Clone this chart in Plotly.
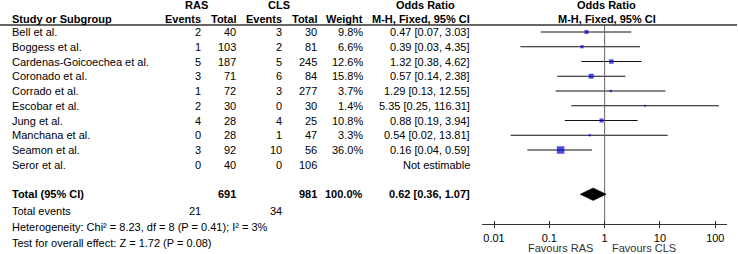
import math
import plotly.graph_objects as go

# ---------------- data ----------------
studies = ["Bell et al.", "Boggess et al.", "Cardenas-Goicoechea et al.", "Coronado et al.",
           "Corrado et al.", "Escobar et al.", "Jung et al.", "Manchana et al.",
           "Seamon et al.", "Seror et al."]
ras_events = [2, 1, 5, 3, 1, 2, 4, 0, 3, 0]
ras_total = [40, 103, 187, 71, 72, 30, 28, 28, 92, 40]
cls_events = [3, 2, 5, 6, 3, 0, 4, 1, 10, 0]
cls_total = [30, 81, 245, 84, 277, 30, 25, 47, 56, 106]
weights = [9.8, 6.6, 12.6, 15.8, 3.7, 1.4, 10.8, 3.3, 36.0, None]
odds = [0.47, 0.39, 1.32, 0.57, 1.29, 5.35, 0.88, 0.54, 0.16, None]
ci_low = [0.07, 0.03, 0.38, 0.14, 0.13, 0.25, 0.19, 0.02, 0.04, None]
ci_high = [3.03, 4.35, 4.62, 2.38, 12.55, 116.31, 3.94, 13.81, 0.59, None]

total_ras = 691
total_cls = 981
total_weight = 100.0
events_ras = 21
events_cls = 34
pooled_or = 0.62
pooled_lo = 0.36
pooled_hi = 1.07
heterogeneity_text = "Heterogeneity: Chi² = 8.23, df = 8 (P = 0.41); I² = 3%"
overall_text = "Test for overall effect: Z = 1.72 (P = 0.08)"
tick_vals = [0.01, 0.1, 1, 10, 100]
tick_labels = ["0.01", "0.1", "1", "10", "100"]

# ---------------- layout constants (pixels) ----------------
W, H = 738, 254
ROW0, STEP = 32, 14.75
row_y = [ROW0 + STEP * i for i in range(len(studies))]
total_y = ROW0 + STEP * 11
foot_y = [210.5, 226.5, 242.5]
head1_y, head2_y, rule_y = 5, 19, 25
axis_y = 224.3
FONT = "Liberation Sans, Arial, sans-serif"
FS = 11

col = dict(name=10, ras_ev=203, ras_tot=238, cls_ev=284, cls_tot=319, weight=365, ortxt=472)

fig = go.Figure()

# CI lines
xs, ys = [], []
for o, lo, hi, y in zip(odds, ci_low, ci_high, row_y):
    if o is None:
        continue
    xs += [lo, hi, None]
    ys += [y, y, None]
fig.add_trace(go.Scatter(x=xs, y=ys, mode="lines", line=dict(color="#111", width=1),
                         hoverinfo="skip", showlegend=False))

# null line at OR = 1
fig.add_trace(go.Scatter(x=[1, 1], y=[rule_y, axis_y], mode="lines",
                         line=dict(color="#666", width=1), hoverinfo="skip", showlegend=False))

# squares
sx, sy, ss = [], [], []
for o, w, y in zip(odds, weights, row_y):
    if o is None:
        continue
    sx.append(o); sy.append(y); ss.append(max(1.8, 7.5 * math.sqrt(w / 36.0)))
fig.add_trace(go.Scatter(x=sx, y=sy, mode="markers",
                         marker=dict(symbol="square", size=ss, color="#0000DD", line=dict(width=0)),
                         hoverinfo="skip", showlegend=False))

# pooled diamond
hh = 6.3
fig.add_trace(go.Scatter(x=[pooled_lo, pooled_or, pooled_hi, pooled_or, pooled_lo],
                         y=[total_y, total_y - hh, total_y, total_y + hh, total_y],
                         mode="lines", fill="toself", fillcolor="#000", line=dict(color="#000", width=0.5),
                         hoverinfo="skip", showlegend=False))

ann = []

def txt(x, y, s, anchor="right", bold=False, color="#000"):
    ann.append(dict(x=x / W, y=y, xref="paper", yref="y", text=("<b>%s</b>" % s) if bold else s,
                    showarrow=False, xanchor=anchor, yanchor="middle",
                    font=dict(family=FONT, size=FS, color=color)))

# headers
txt(196, head1_y, "RAS", "center", True)
txt(279, head1_y, "CLS", "center", True)
txt(425, head1_y, "Odds Ratio", "center", True)
txt(606, head1_y, "Odds Ratio", "center", True)
txt(col["name"], head2_y, "Study or Subgroup", "left", True)
txt(col["ras_ev"], head2_y, "Events", "right", True)
txt(col["ras_tot"], head2_y, "Total", "right", True)
txt(col["cls_ev"], head2_y, "Events", "right", True)
txt(col["cls_tot"], head2_y, "Total", "right", True)
txt(col["weight"], head2_y, "Weight", "right", True)
txt(col["ortxt"], head2_y, "M-H, Fixed, 95% CI", "right", True)
txt(607, head2_y, "M-H, Fixed, 95% CI", "center", True)

# study rows
for i, y in enumerate(row_y):
    txt(col["name"], y, studies[i], "left")
    txt(col["ras_ev"], y, str(ras_events[i]))
    txt(col["ras_tot"], y, str(ras_total[i]))
    txt(col["cls_ev"], y, str(cls_events[i]))
    txt(col["cls_tot"], y, str(cls_total[i]))
    if weights[i] is not None:
        txt(col["weight"], y, "%.1f%%" % weights[i])
    if odds[i] is not None:
        txt(col["ortxt"], y, "%.2f [%.2f, %.2f]" % (odds[i], ci_low[i], ci_high[i]))
    else:
        txt(col["ortxt"], y, "Not estimable")

# totals
txt(col["name"], total_y, "Total (95% CI)", "left", True)
txt(col["ras_tot"], total_y, str(total_ras), "right", True)
txt(col["cls_tot"], total_y, str(total_cls), "right", True)
txt(col["weight"], total_y, "%.1f%%" % total_weight, "right", True)
txt(col["ortxt"], total_y, "%.2f [%.2f, %.2f]" % (pooled_or, pooled_lo, pooled_hi), "right", True)

txt(col["name"], foot_y[0], "Total events", "left")
txt(col["ras_ev"], foot_y[0], str(events_ras))
txt(col["cls_ev"], foot_y[0], str(events_cls))
txt(col["name"], foot_y[1], heterogeneity_text, "left")
txt(col["name"], foot_y[2], overall_text, "left")

# favours labels
txt(595, 248, "Favours RAS", "right", color="#333")
txt(610, 248, "Favours CLS", "left", color="#333")

x_left_px, x_right_px = 482, 727
dec_px = (715.3 - 494) / 4.0
r0 = -2 - (494 - x_left_px) / dec_px
r1 = 2 + (x_right_px - 715.3) / dec_px

fig.update_layout(
    width=W, height=H, autosize=False,
    margin=dict(l=0, r=0, t=0, b=0),
    paper_bgcolor="white", plot_bgcolor="white",
    annotations=ann,
    shapes=[dict(type="line", xref="paper", yref="y", x0=0, x1=737 / W, y0=rule_y, y1=rule_y,
                 line=dict(color="#333", width=1.5))],
    xaxis=dict(type="log", domain=[x_left_px / W, x_right_px / W], range=[r0, r1],
               anchor="free", position=(H - axis_y) / H,
               showline=True, linecolor="#333", linewidth=1, showgrid=False, zeroline=False,
               tickmode="array", tickvals=tick_vals, ticktext=tick_labels,
               ticks="outside", ticklen=3, tickcolor="#333", tickwidth=1,
               minor=dict(ticks="inside", ticklen=3, tickcolor="#333", tickwidth=1,
                          tickmode="array", tickvals=tick_vals, showgrid=False),
               tickfont=dict(family=FONT, size=FS, color="#000")),
    yaxis=dict(domain=[0, 1], range=[H, 0], visible=False, showgrid=False, zeroline=False),
    hovermode=False,
)

fig.write_html("out.html", post_script="document.body.style.margin='0';",
               config={"displayModeBar": False, "staticPlot": True})
